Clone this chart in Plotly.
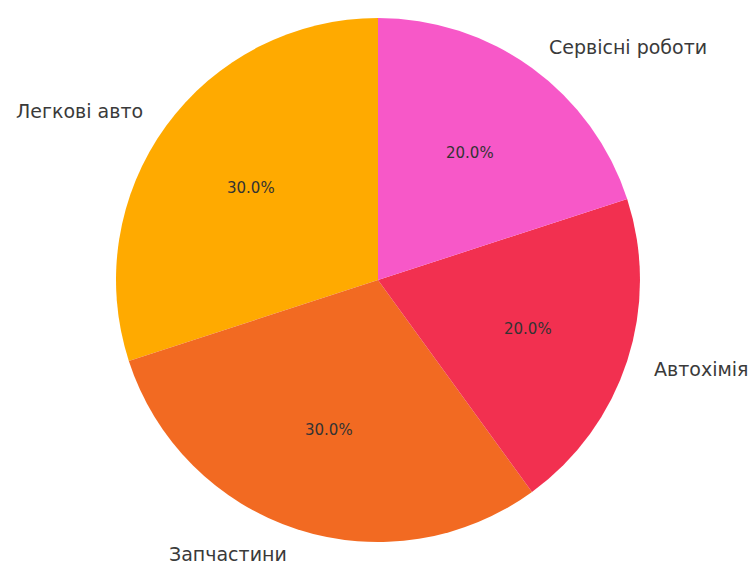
import math
import plotly.graph_objects as go

# Sales structure by category
categories = ["Легкові авто", "Запчастини", "Автохімія", "Сервісні роботи"]
shares = [30, 30, 20, 20]
colors = ["#FFAA00", "#F26A22", "#F23050", "#F758C8"]

W, H = 753, 564
CX, CY, R = 378, 280, 262          # pie centre and radius in pixels
START_ANGLE = 90                   # first wedge starts at 12 o'clock
LABEL_DIST, PCT_DIST = 1.1, 0.6

total = sum(shares)

# plotly places the first counterclockwise wedge ending at `rotation`,
# so shift it back by its own size to make it start at 12 o'clock
first_span = 360 * shares[0] / total

fig = go.Figure(go.Pie(
    labels=categories,
    values=shares,
    sort=False,
    direction="counterclockwise",
    rotation=-first_span,
    marker=dict(colors=colors, line=dict(width=0)),
    textinfo="none",
    hoverinfo="label+percent",
    showlegend=False,
    domain=dict(x=[(CX - R) / W, (CX + R) / W],
                y=[1 - (CY + R) / H, 1 - (CY - R) / H]),
))

# Category labels outside and percentages inside each wedge
angle = START_ANGLE
annotations = []
for name, val in zip(categories, shares):
    span = 360 * val / total
    mid = math.radians(angle + span / 2)
    angle += span
    c, s = math.cos(mid), math.sin(mid)
    lx = CX + LABEL_DIST * R * c
    ly = CY - LABEL_DIST * R * s
    annotations.append(dict(
        x=lx / W, y=1 - ly / H, xref="paper", yref="paper",
        text=name, showarrow=False,
        xanchor="left" if c > 0 else "right", yanchor="middle",
        font=dict(family="DejaVu Sans", size=19, color="#3a3a3a"),
    ))
    px = CX + PCT_DIST * R * c
    py = CY - PCT_DIST * R * s
    annotations.append(dict(
        x=px / W, y=1 - py / H, xref="paper", yref="paper",
        text=f"{100 * val / total:.1f}%", showarrow=False,
        xanchor="center", yanchor="middle",
        font=dict(family="DejaVu Sans", size=15, color="#333333"),
    ))

fig.update_layout(
    width=W, height=H,
    margin=dict(l=0, r=0, t=0, b=0),
    paper_bgcolor="white",
    plot_bgcolor="white",
    annotations=annotations,
)

fig.write_html("out.html")
